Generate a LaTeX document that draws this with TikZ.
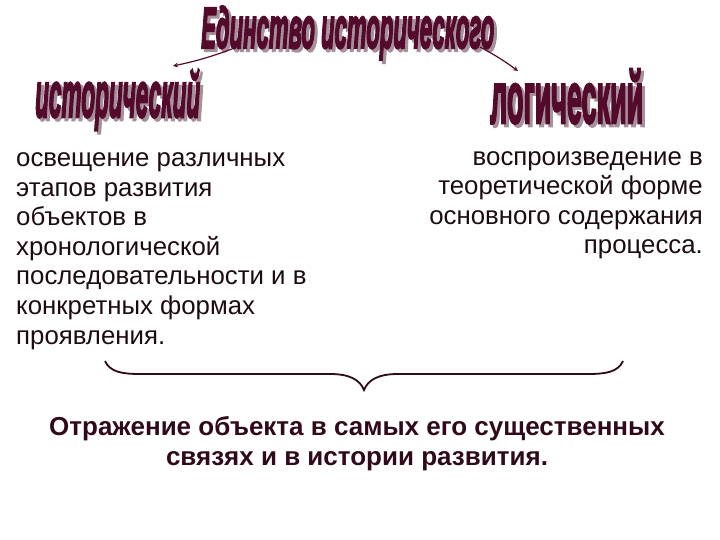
\documentclass[tikz,border=0pt]{standalone}
\usepackage{fontspec}
\setmainfont{Liberation Sans}
\newfontfamily\artfont[FakeBold=4]{Liberation Sans}
\usepackage{graphicx}
\definecolor{wine}{RGB}{84,10,42}
\definecolor{wineshade}{RGB}{165,145,155}
\definecolor{ink}{RGB}{28,12,18}
\definecolor{darkink}{RGB}{48,10,26}
\begin{document}
\begin{tikzpicture}[x=1pt, y=-1pt, >=stealth,
    art/.style={inner sep=0pt, text=wine, font=\artfont\bfseries, anchor=base west},
    artshade/.style={art, text=wineshade},
    body/.style={inner sep=0pt, text=ink, font=\fontsize{25.8}{29.6}\selectfont},
    arr/.style={->, wine, line width=1.2pt}]
  \useasboundingbox (0,0) rectangle (720,540);
  % headings with their shadows
  \node[artshade] at (204,51) {\resizebox{293pt}{42pt}{\itshape Единство исторического}};
  \node[artshade] at (38,120) {\resizebox{165pt}{48pt}{\itshape исторический}};
  \node[artshade] at (493,126) {\resizebox{153pt}{54pt}{логический}};
  \node[art] (title) at (201,48) {\resizebox{293pt}{42pt}{\itshape Единство исторического}};
  \node[art] (hist) at (35,117) {\resizebox{165pt}{48pt}{\itshape исторический}};
  \node[art] (logic) at (490,123) {\resizebox{153pt}{54pt}{логический}};
  \coordinate (titleL) at (232,49);
  \coordinate (titleR) at (480,47);
  \coordinate (histR) at (173,66);
  \coordinate (logicL) at (518,71);
  \draw[arr] (titleL) to[bend left=4] (histR);
  \draw[arr] (titleR) to[bend left=4] (logicL);
  % text (base = last line)
  \node[body, anchor=base west, align=left] (left) at (16,344)
    {освещение различных\\этапов развития\\объектов в\\хронологической\\последовательности и в\\конкретных формах\\проявления.};
  \node[body, anchor=base east, align=right] (right) at (703,254)
    {воспроизведение в\\теоретической форме\\основного содержания\\процесса.};
  \draw[darkink, line width=1.8pt] (105,361) .. controls (110,372) and (122,374) .. (140,374)
    -- (330,374) .. controls (350,374) and (360,380) .. (364,390)
    .. controls (368,380) and (378,374) .. (398,374)
    -- (588,374) .. controls (606,374) and (618,372) .. (623,361);
  \node[inner sep=0pt, text=darkink, font=\bfseries\fontsize{26}{30}\selectfont, anchor=base, align=center] (sum) at (357,465)
    {Отражение объекта в самых его существенных\\связях и в истории развития.};
\end{tikzpicture}
\end{document}
